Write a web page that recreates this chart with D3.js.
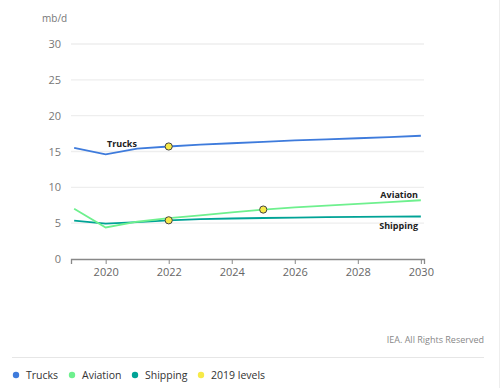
<!DOCTYPE html>
<html><head><meta charset="utf-8">
<script src="https://cdn.jsdelivr.net/npm/d3@7/dist/d3.min.js"></script>
<style>
body{margin:0;background:#fff;}
svg{display:block;font-family:"Open Sans","Noto Sans",Arial,sans-serif;}
</style></head>
<body>
<svg id="c" width="500" height="388"></svg>
<script>
const years = [2019,2020,2021,2022,2023,2024,2025,2026,2027,2028,2029,2030];
const trucks = [15.5,14.6,15.4,15.7,15.95,16.15,16.35,16.55,16.7,16.85,17.0,17.2];
const aviation = [7.0,4.4,5.2,5.7,6.1,6.5,6.9,7.2,7.45,7.7,7.95,8.2];
const shipping = [5.35,4.95,5.15,5.4,5.55,5.65,5.72,5.78,5.83,5.87,5.9,5.93];
const levelPoints = [{series:"Trucks",year:2022,value:15.7},{series:"Shipping",year:2022,value:5.4},{series:"Aviation",year:2025,value:6.9}];
const yTicks = [0,5,10,15,20,25,30];
const xTicks = [2020,2022,2024,2026,2028,2030];
const legendItems = ["Trucks","Aviation","Shipping","2019 levels"];
const colors = {"Trucks":"#3e7bdc","Aviation":"#6ef08e","Shipping":"#00a396","2019 levels":"#f7ea48"};

const svg = d3.select("#c");
const x = d3.scaleLinear().domain([2018.9,2030.1]).range([71,424]);
const y = d3.scaleLinear().domain([0,30]).range([259,44]);

svg.append("line").attr("x1",499.5).attr("x2",499.5).attr("y1",0).attr("y2",388).attr("stroke","#eeeeee");

svg.append("g").selectAll("line").data(yTicks.filter(d=>d>0)).join("line")
  .attr("x1",71).attr("x2",424).attr("y1",d=>y(d)).attr("y2",d=>y(d))
  .attr("stroke","#eeeeee").attr("stroke-width",1.3);
svg.append("g").selectAll("text").data(yTicks).join("text")
  .attr("x",61).attr("y",d=>y(d)+4).attr("text-anchor","end")
  .attr("font-size",11).attr("fill","#777").text(d=>d);
svg.append("text").attr("x",42).attr("y",22).attr("font-size",10).attr("fill","#777").text("mb/d");

const xa = svg.append("g").attr("transform","translate(0,259)")
  .call(d3.axisBottom(x).tickValues(xTicks).tickFormat(d3.format("d")).tickSize(5).tickPadding(4));
xa.select(".domain").attr("stroke","#888").attr("stroke-width",1.3);
xa.selectAll(".tick line").attr("stroke","#888");
xa.selectAll(".tick text").attr("fill","#666").attr("font-size",11).attr("font-family","'Open Sans','Noto Sans',Arial,sans-serif");

const line = d3.line().x((d,i)=>x(years[i])).y(d=>y(d));
const series = [["Shipping",shipping],["Aviation",aviation],["Trucks",trucks]];
series.forEach(([name,vals])=>{
  svg.append("path").datum(vals).attr("d",line).attr("fill","none")
    .attr("stroke",colors[name]).attr("stroke-width",1.8);
});

svg.append("g").selectAll("circle").data(levelPoints).join("circle")
  .attr("cx",d=>x(d.year)).attr("cy",d=>y(d.value)).attr("r",3.6)
  .attr("fill",colors["2019 levels"]).attr("stroke","#444").attr("stroke-width",1);

const lab = {"font-size":9,"font-weight":"bold","fill":"#222"};
function addLabel(t,xx,yy,anchor){
  const e = svg.append("text").attr("x",xx).attr("y",yy).attr("text-anchor",anchor).text(t);
  Object.entries(lab).forEach(([k,v])=>e.attr(k,v));
}
addLabel("Trucks",107,147,"start");
addLabel("Aviation",418,198,"end");
addLabel("Shipping",418,229,"end");

svg.append("text").attr("x",484).attr("y",343).attr("text-anchor","end").attr("font-size",9).attr("fill","#888").text("IEA. All Rights Reserved");
svg.append("line").attr("x1",12).attr("x2",484).attr("y1",357.5).attr("y2",357.5).attr("stroke","#e6e6e6");

const lx = [16,72,135,201];
const lg = svg.append("g").selectAll("g").data(legendItems).join("g")
  .attr("transform",(d,i)=>`translate(${lx[i]},375)`);
lg.append("circle").attr("r",3.2).attr("fill",d=>colors[d]);
lg.append("text").attr("x",10).attr("y",4).attr("font-size",10.5).attr("fill","#333").text(d=>d);
</script>
</body></html>
